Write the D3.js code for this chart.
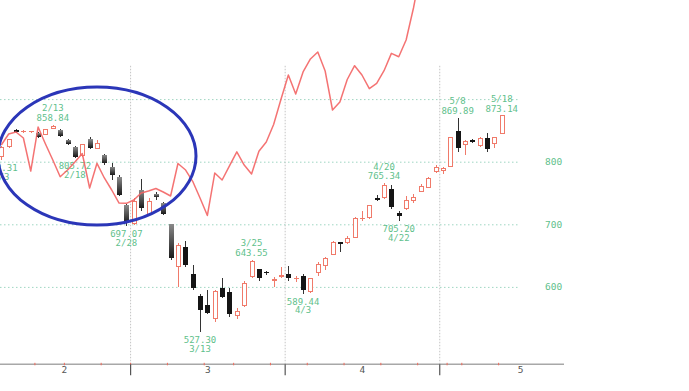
<!DOCTYPE html>
<html><head><meta charset="utf-8">
<script src="https://cdn.jsdelivr.net/npm/d3@7"></script>
<style>body{margin:0;background:#fff;overflow:hidden}</style>
</head><body>
<svg id="chart" width="689" height="391"></svg>
<script>
// ---- data (2020, daily) ----
const dates = ["2/3","2/4","2/5","2/6","2/7","2/10","2/12","2/13","2/14","2/17","2/18","2/19","2/20","2/21","2/25","2/26","2/27","2/28",
"3/2","3/3","3/4","3/5","3/6","3/9","3/10","3/11","3/12","3/13","3/16","3/17","3/18","3/19","3/23","3/24","3/25","3/26","3/27","3/30","3/31",
"4/1","4/2","4/3","4/6","4/7","4/8","4/9","4/10","4/13","4/14","4/15","4/16","4/17","4/20","4/21","4/22","4/23","4/24","4/27","4/28","4/30",
"5/1","5/7","5/8","5/11","5/12","5/13","5/14","5/15","5/18"];
const openV  = [808,824,849.5,847.5,847.5,845.4,843.8,853.5,850.6,834.7,824,810.5,835.8,821.4,810.7,792,775,730.9,
701.6,754.8,714.9,748.4,733.6,700.5,632.3,663.3,620.7,585.5,571,549.9,598.8,592.4,555,569.6,616.3,628.2,623.5,610.5,617,
620,612.5,617.5,592.4,622.8,633.4,652.1,670.2,670.6,679.3,708,710.6,740.5,742.5,756.4,718.5,724.5,738.8,752,759,784,
785.6,793,849.5,827.8,833.5,825.5,838.3,828.3,845.4];
const highV  = [825,837,852,850,849.5,848,853,858.84,852,837,825.5,828,840,834.7,813,797.4,779,733,
741.6,773,741.6,751,736,701,670.6,674,635,588,595,595.2,614.8,597.6,565.5,609.5,643.55,629,626,616,631,
633,617,620,615,640.3,647,674,670.6,681,712,721,731,747.6,765.34,763.5,721.5,745,748,765,776,795,
791,840,869.89,834,836,839.8,846,839.5,873.14];
const lowV   = [802.31,822,846,846,846,838,842,852,839,826,805.72,808,821,820,795,770.8,745,697.07,
699,721,713,739,714.9,643,600.4,632,595,527.30,556,544.6,582.7,552,549,568,615,610,619,600,613.8,
610,608,589.44,591,618,626.4,651,656,669,678,705.8,709,737,741,725,705.20,723,734,751,758,782,
780.7,792,816,810.7,830,824,815,821.4,845];
const closeV = [822.4,835.8,848.5,848.5,848.5,840,851.7,856.5,841.5,828.7,808,826.7,822.4,829.4,797.4,778.8,746.8,701.6,
736,725.6,736,743.1,716.5,645.7,665.4,635,597.8,563.2,557.9,592.4,584.4,556.8,560.4,604.7,640.3,613.8,622,611.5,618,
613.8,613.5,595.2,613.8,635,645.6,670.6,669.6,677.6,709.6,710,729.7,740,761.2,728.1,713.3,737.7,743.1,760,773.5,791,
789.5,839,821.4,833,833,837.4,819.8,839,873.14];
// comparison line (same day slots)
const compareV = [826.7,844.2,847.4,837.9,785.1,855.4,828.3,802.7,776.0,786.7,799.5,813.1,758.0,797.4,774.0,754.8,734.0,733.5,
738.8,750.0,753.2,757.2,751.6,745.2,797.1,787.2,768.7,742.0,714.1,781.9,770.8,793.3,815.8,794.6,780.4,816.8,831.5,859.4,899.7,
938.5,908.1,943.3,964.1,975.2,944.9,882.6,895.4,931.3,953.4,938.5,916.6,925.1,945.4,973.0,967.7,994.4,1045.5,1106.2];
// annotated highs / lows
const peakDates  = ["2/3","2/13","2/18","2/28","3/13","3/25","4/3","4/20","4/22","5/8","5/18"];
const peakKinds  = ["low","high","low","low","low","high","low","high","low","high","high"];
const peakValues = [802.31,858.84,805.72,697.07,527.30,643.55,589.44,765.34,705.20,869.89,873.14];
const yTickValues = [600,700,800];
const gridValues  = [600,700,800,900];
const monthLabels = ["2","3","4","5"];
const year = 2020;
const slotsPerMonth = 22; // projected width of the unfinished month
const shadedUntil = "3/9"; // falling candles drawn with a grey shading up to this day

// ---- layout ----
const svg = d3.select("#chart");
const axisY = 364.3, gridTop = 65, gridRight = 520, axisRight = 564;
const x = d3.scaleLinear().domain([0, dates.length - 1]).range([1.3, 501.8]);
const y = d3.scaleLinear().domain([500, 900]).range([349.5, 99.1]);
const green = "#5fbf8c", salmon = "#f07a6a";

const defs = svg.append("defs");
const gr = defs.append("linearGradient").attr("id", "shade").attr("x1", 0).attr("x2", 0).attr("y1", 0).attr("y2", 1);
gr.append("stop").attr("offset", "0%").attr("stop-color", "#8a8a8a");
gr.append("stop").attr("offset", "100%").attr("stop-color", "#1a1a1a");

// month boundaries and week boundaries from dates
const jsDates = dates.map(s => { const [m, d] = s.split("/").map(Number); return new Date(year, m - 1, d); });
const monthBounds = [-0.5];
const weekBounds = [-0.5];
for (let i = 1; i < jsDates.length; i++) {
  if (jsDates[i].getMonth() !== jsDates[i-1].getMonth()) monthBounds.push(i - 0.5);
  if (jsDates[i].getDay() <= jsDates[i-1].getDay() || (jsDates[i] - jsDates[i-1]) >= 7*864e5) weekBounds.push(i - 0.5);
}
const monthEnds = monthBounds.slice(1).concat([monthBounds[monthBounds.length-1] + slotsPerMonth]);
const monthMid = monthBounds.map((b, i) => (b + monthEnds[i]) / 2);

// horizontal grid
const gridG = svg.append("g").call(d3.axisLeft(y).tickValues(gridValues).tickSize(-gridRight).tickFormat(""));
gridG.select(".domain").remove();
gridG.selectAll("line").attr("stroke", "#9fd6c2").attr("stroke-dasharray", "1.5,2.5");

// vertical month grid
const vg = svg.append("g").attr("transform", `translate(0,${axisY})`)
  .call(d3.axisBottom(x).tickValues(monthBounds.slice(1)).tickSize(-(axisY - gridTop)).tickFormat(""));
vg.select(".domain").remove();
vg.selectAll("line").attr("stroke", "#c4c4c4").attr("stroke-dasharray", "1.5,1.5");

// x axis line
svg.append("line").attr("x1", 0).attr("x2", axisRight).attr("y1", axisY).attr("y2", axisY)
  .attr("stroke", "#a8a8a8").attr("stroke-width", 1.6);
// week ticks (red)
const wk = svg.append("g").attr("transform", `translate(0,${axisY - 1.5})`)
  .call(d3.axisBottom(x).tickValues(weekBounds).tickSize(2.5).tickFormat(""));
wk.select(".domain").remove();
wk.selectAll("line").attr("stroke", "#f06a5a").attr("stroke-width", 1);
// month ticks
const mt = svg.append("g").attr("transform", `translate(0,${axisY})`)
  .call(d3.axisBottom(x).tickValues(monthBounds.slice(1)).tickSize(11).tickFormat(""));
mt.select(".domain").remove();
mt.selectAll("line").attr("stroke", "#555").attr("stroke-width", 1.2);
// month labels
const ml = svg.append("g").attr("transform", `translate(0,${axisY})`)
  .call(d3.axisBottom(x).tickValues(monthMid).tickSize(0).tickPadding(2).tickFormat((d, i) => monthLabels[i]));
ml.select(".domain").remove();
ml.selectAll("text").attr("font-family", "DejaVu Sans Mono").attr("font-size", 9.5).attr("fill", "#555");

// y labels
const yl = svg.append("g").attr("transform", "translate(545,0)")
  .call(d3.axisRight(y).tickValues(yTickValues).tickSize(0).tickPadding(0));
yl.select(".domain").remove();
yl.selectAll("text").attr("font-family", "DejaVu Sans Mono").attr("font-size", 9.5).attr("fill", green);

// candles
const shadeIdx = dates.indexOf(shadedUntil);
const candles = dates.map((d, i) => ({i, o: openV[i], h: highV[i], l: lowV[i], c: closeV[i]}));
const cg = svg.append("g").attr("shape-rendering", "crispEdges");
candles.forEach(k => {
  const cx = Math.round(x(k.i)) + 0.5;
  const up = k.c >= k.o;
  const col = up ? salmon : "#151515";
  cg.append("line").attr("x1", cx).attr("x2", cx).attr("y1", y(k.h)).attr("y2", y(k.l))
    .attr("stroke", up ? salmon : "#333").attr("stroke-width", 1);
  const top = y(Math.max(k.o, k.c)), bot = y(Math.min(k.o, k.c));
  if (bot - top < 1.5) {
    cg.append("line").attr("x1", cx - 3).attr("x2", cx + 2.5).attr("y1", (top+bot)/2).attr("y2", (top+bot)/2)
      .attr("stroke", col).attr("stroke-width", 1.3);
  } else if (up) {
    cg.append("rect").attr("x", cx - 2).attr("y", top).attr("width", 4).attr("height", bot - top)
      .attr("fill", "#fff").attr("stroke", salmon).attr("stroke-width", 1);
  } else {
    cg.append("rect").attr("x", cx - 2.5).attr("y", top).attr("width", 5).attr("height", bot - top)
      .attr("fill", k.i >= 5 && k.i <= shadeIdx ? "url(#shade)" : col);
  }
});

// high/low annotations
const lg = svg.append("g").attr("font-family", "DejaVu Sans Mono").attr("font-size", 9)
  .attr("fill", green).attr("text-anchor", "middle").attr("dominant-baseline", "central");
peakDates.forEach((d, j) => {
  const i = dates.indexOf(d);
  const px = x(i), py = y(peakValues[j]);
  const val = peakValues[j].toFixed(2);
  if (peakKinds[j] === "high") {
    lg.append("text").attr("x", px).attr("y", py - 7).text(val);
    lg.append("text").attr("x", px).attr("y", py - 16.5).text(d);
  } else {
    lg.append("text").attr("x", px).attr("y", py + 8).text(val);
    lg.append("text").attr("x", px).attr("y", py + 16.5).text(d);
  }
});

// comparison line
svg.append("path").datum(compareV)
  .attr("d", d3.line().x((v, i) => x(i)).y(v => y(v)))
  .attr("fill", "none").attr("stroke", "#f36464").attr("stroke-width", 1.5)
  .attr("stroke-opacity", 0.9).attr("stroke-linejoin", "round");

// annotation ellipse
svg.append("ellipse").attr("cx", 97).attr("cy", 156).attr("rx", 99).attr("ry", 69)
  .attr("fill", "none").attr("stroke", "#2b36b8").attr("stroke-width", 3);
</script>
</body></html>
